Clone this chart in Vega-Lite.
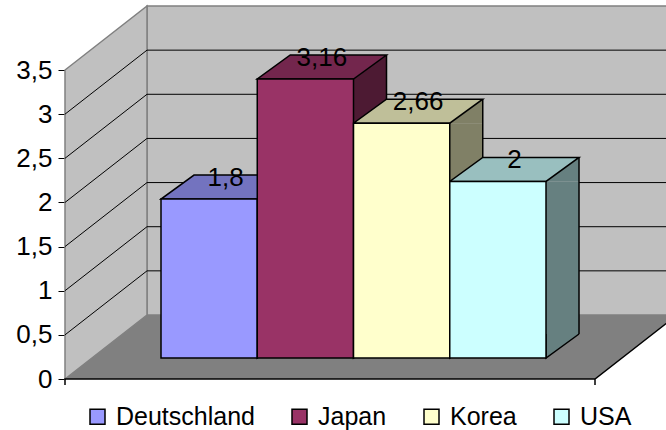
{
  "$schema": "https://vega.github.io/schema/vega-lite/v6.json",
  "width": 530,
  "height": 309,
  "autosize": {"type": "none"},
  "padding": {"left": 65, "top": 70, "right": 71, "bottom": 51},
  "background": "white",
  "config": {
    "view": {"stroke": null},
    "font": "Liberation Sans",
    "locale": {"number": {"decimal": ",", "thousands": ".", "grouping": [3], "currency": ["", " €"]}},
    "axisY": {
      "grid": false, "title": null,
      "domainColor": "black", "domainWidth": 1, "tickColor": "black", "tickWidth": 1, "tickSize": 7,
      "labelFontSize": 26, "labelFont": "Liberation Sans", "labelColor": "black", "labelPadding": 6,
      "labelOverlap": false, "labelFlush": false, "zindex": 2
    }
  },
  "datasets": {
    "bars": [
      {"country": "Deutschland", "value": 1.8},
      {"country": "Japan", "value": 3.16},
      {"country": "Korea", "value": 2.66},
      {"country": "USA", "value": 2}
    ],
    "grid": [
      {"level": 0.5}, {"level": 1}, {"level": 1.5},
      {"level": 2}, {"level": 2.5}, {"level": 3}
    ]
  },
  "layer": [
    {
      "data": {"values": [{}]},
      "mark": {"type": "point", "shape": "M-183,-64 L347,-64 L347,-373 L-183,-373 Z", "size": 4, "filled": true, "fill": "#c0c0c0", "stroke": "#808080", "strokeWidth": 1.5, "opacity": 1},
      "encoding": {"y": {"datum": 0, "type": "quantitative", "title": null}}
    },
    {
      "data": {"values": [{}]},
      "mark": {"type": "point", "shape": "M-265,0 L-265,-309 L-183,-373 L-183,-64 Z", "size": 4, "filled": true, "fill": "#c0c0c0", "stroke": "#808080", "strokeWidth": 1.5, "opacity": 1},
      "encoding": {"y": {"datum": 0, "type": "quantitative", "title": null}}
    },
    {
      "data": {"values": [{}]},
      "mark": {"type": "point", "shape": "M-265,0 L265,0 L347,-64 L-183,-64 Z", "size": 4, "filled": true, "fill": "#808080", "strokeWidth": 0, "opacity": 1},
      "encoding": {"y": {"datum": 0, "type": "quantitative", "title": null}}
    },
    {
      "data": {"name": "grid"},
      "mark": {"type": "point", "shape": "M-265,0 L-183,-64 L347,-64", "size": 4, "filled": false, "stroke": "black", "strokeWidth": 1, "opacity": 1},
      "encoding": {"y": {"field": "level", "type": "quantitative", "title": null}}
    },
    {
      "data": {"values": [{}]},
      "mark": {"type": "point", "shape": "M-265,6 L-265,0 L265,0 L347,-64 M265,0 L265,6", "size": 4, "filled": false, "stroke": "black", "strokeWidth": 1.5, "opacity": 1},
      "encoding": {"y": {"datum": 0, "type": "quantitative", "title": null}}
    },
    {
      "data": {"name": "bars"},
      "mark": {"type": "bar", "width": 33, "xOffset": 91.625, "yOffset": -21, "y2Offset": -45, "strokeWidth": 0, "opacity": 1},
      "encoding": {
        "x": {"field": "country", "type": "nominal", "sort": null, "axis": null,
              "scale": {"type": "band", "paddingInner": 0, "paddingOuter": 0.7532, "align": 0.4759}},
        "y": {"field": "value", "type": "quantitative", "title": null},
        "y2": {"datum": 0},
        "fill": {"field": "country", "type": "nominal", "legend": null,
                 "scale": {"domain": ["Deutschland", "Japan", "Korea", "USA"], "range": ["#4d4d80", "#4d1a33", "#808066", "#668080"]}}
      }
    },
    {
      "data": {"name": "bars"},
      "mark": {"type": "point", "shape": "M75.125,-21 L108.125,-45 L108.125,-21 Z", "size": 4, "filled": true, "strokeWidth": 0, "opacity": 1},
      "encoding": {
        "x": {"field": "country", "type": "nominal", "sort": null, "axis": null},
        "y": {"field": "value", "type": "quantitative", "title": null},
        "fill": {"field": "country", "type": "nominal", "legend": null,
                 "scale": {"domain": ["Deutschland", "Japan", "Korea", "USA"], "range": ["#4d4d80", "#4d1a33", "#808066", "#668080"]}}
      }
    },
    {
      "data": {"name": "bars"},
      "mark": {"type": "point", "shape": "M75.125,-45 L75.125,-21 L108.125,-45", "size": 4, "filled": true, "stroke": "black", "strokeWidth": 1.5, "opacity": 1},
      "encoding": {
        "x": {"field": "country", "type": "nominal", "sort": null, "axis": null},
        "y": {"datum": 0, "type": "quantitative", "title": null},
        "fill": {"field": "country", "type": "nominal", "legend": null,
                 "scale": {"domain": ["Deutschland", "Japan", "Korea", "USA"], "range": ["#4d4d80", "#4d1a33", "#808066", "#668080"]}}
      }
    },
    {
      "data": {"name": "bars"},
      "mark": {"type": "rule", "xOffset": 108.125, "yOffset": -45, "y2Offset": -45, "stroke": "black", "strokeWidth": 1.5},
      "encoding": {
        "x": {"field": "country", "type": "nominal", "sort": null, "axis": null},
        "y": {"field": "value", "type": "quantitative", "title": null},
        "y2": {"datum": 0}
      }
    },
    {
      "data": {"name": "bars"},
      "mark": {"type": "point", "shape": "M-21.125,-21 L75.125,-21 L108.125,-45 L11.875,-45 Z", "size": 4, "filled": true, "stroke": "black", "strokeWidth": 1.5, "opacity": 1},
      "encoding": {
        "x": {"field": "country", "type": "nominal", "sort": null, "axis": null},
        "y": {"field": "value", "type": "quantitative", "title": null},
        "fill": {"field": "country", "type": "nominal", "legend": null,
                 "scale": {"domain": ["Deutschland", "Japan", "Korea", "USA"], "range": ["#7373bf", "#73264d", "#bfbf99", "#99bfbf"]}}
      }
    },
    {
      "data": {"name": "bars"},
      "mark": {"type": "bar", "xOffset": 27, "yOffset": -21, "y2Offset": -21, "stroke": "black", "strokeWidth": 1.5, "opacity": 1},
      "encoding": {
        "x": {"field": "country", "type": "nominal", "sort": null, "axis": null},
        "y": {"field": "value", "type": "quantitative", "title": null,
              "scale": {"domain": [0, 3.5], "nice": false, "zero": true},
              "axis": {"values": [0, 0.5, 1, 1.5, 2, 2.5, 3, 3.5], "format": "~g", "title": null, "grid": false}},
        "y2": {"datum": 0},
        "color": {"field": "country", "type": "nominal",
                  "scale": {"domain": ["Deutschland", "Japan", "Korea", "USA"], "range": ["#9999ff", "#993366", "#ffffcc", "#ccffff"]},
                  "legend": {"orient": "none", "legendX": 20, "legendY": 334, "direction": "horizontal", "title": null,
                             "symbolType": "square", "symbolSize": 225, "symbolStrokeColor": "black", "symbolStrokeWidth": 1.5,
                             "symbolOpacity": 1, "labelFontSize": 25, "labelFont": "Liberation Sans", "labelColor": "black",
                             "labelOffset": 6, "columnPadding": 32, "padding": 0, "labelLimit": 300}}
      }
    },
    {
      "data": {"name": "bars"},
      "mark": {"type": "text", "dx": 43.5, "dy": -34, "baseline": "alphabetic", "align": "center", "fontSize": 26, "font": "Liberation Sans", "color": "black"},
      "encoding": {
        "x": {"field": "country", "type": "nominal", "sort": null, "axis": null},
        "y": {"field": "value", "type": "quantitative", "title": null},
        "text": {"field": "value", "type": "quantitative", "format": "~g"}
      }
    }
  ],
  "resolve": {"scale": {"fill": "independent", "color": "independent"}}
}
